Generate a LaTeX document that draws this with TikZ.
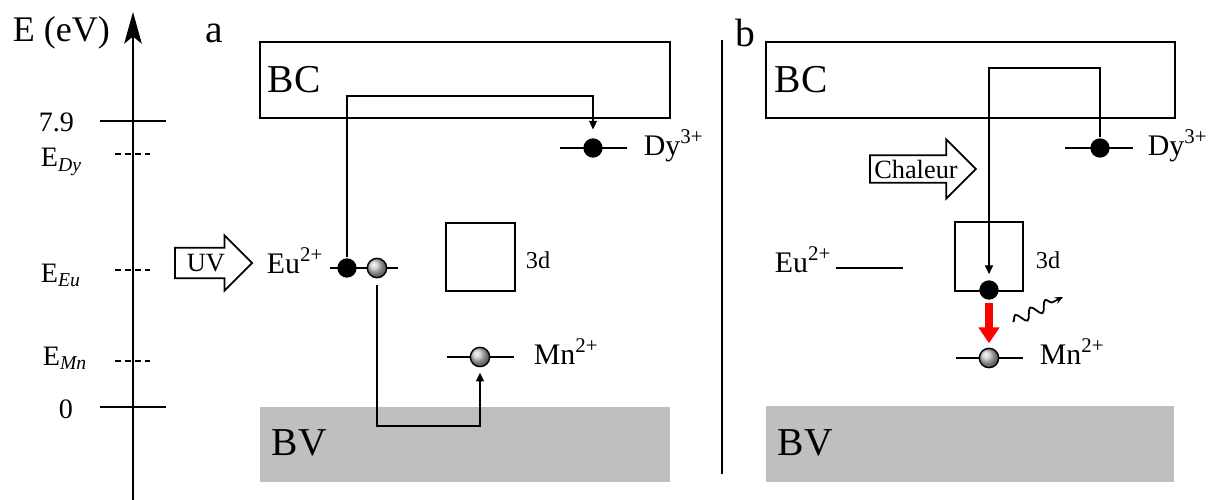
\documentclass[tikz,border=0pt]{standalone}
\usepackage{fontspec}
\setmainfont{Liberation Serif}
\usetikzlibrary{positioning, arrows.meta, shapes.arrows, decorations.pathmorphing}

\begin{document}
\begin{tikzpicture}[
  x=0.02cm, y=-0.02cm, line width=1pt,
  big/.style={font=\fontsize{22.5}{26}\selectfont, inner sep=0pt, anchor=base west},
  ion/.style={font=\fontsize{17}{20}\selectfont, inner sep=0pt, anchor=base west},
  lbl/.style={font=\fontsize{13.8}{16}\selectfont, inner sep=0pt, anchor=base west},
  axl/.style={font=\fontsize{16}{18}\selectfont, inner sep=0pt, anchor=base west},
  edot/.style={circle, fill=black, inner sep=0pt, minimum size=11pt},
  hole/.style={circle, draw, shade, ball color=gray!45, inner sep=0pt, minimum size=11pt, line width=0.8pt},
  excit/.style={single arrow, draw, fill=white, anchor=tail, font=\fontsize{15}{17}\selectfont, inner xsep=2pt},
  jump/.style={-{Triangle[length=5pt,width=4.5pt]}, line width=0.9pt},
  tick/.style={dash pattern=on 3.4pt off 2.2pt, line width=0.9pt},
]
\useasboundingbox (0,0) rectangle (1224,500);

% energy axis
\coordinate (axbot) at (133,500);
\coordinate (axtop) at (133,12);
\draw[-{Stealth[length=18pt,width=10pt,inset=4pt]}] (axbot) -- (axtop);
\node[big, font=\fontsize{20.5}{24}\selectfont] (eaxis) at (12,42) {E (eV)};
\draw (100,121) -- (166,121);
\draw (100,407) -- (166,407);
\draw[tick] (115,154) -- (152,154);
\draw[tick] (115,270) -- (152,270);
\draw[tick] (115,361) -- (152,361);
\node[axl] (t79) at (38,132) {7.9};
\node[axl] (tdy) at (40,167) {E\textsubscript{\textit{Dy}}};
\node[axl] (teu) at (40,282) {E\textsubscript{\textit{Eu}}};
\node[axl] (tmn) at (42,365) {E\textsubscript{\textit{Mn}}};
\node[axl] (t0) at (58,418) {0};

% panel a
\node[big] (lblA) at (205,43) {a};
\draw (260,42) rectangle (670,118);
\fill[black!25] (260,407) rectangle (670,482);
\node[big] (bcA) at (267,92) {BC};
\node[big] (bvA) at (271,455) {BV};
\draw (446,223) rectangle (515,291);
\node[lbl] (ddA) at (525,268) {3d};
\draw (560,148) -- (627,148);
\draw (330,268) -- (398,268);
\draw (447,357) -- (514,357);
\node[edot] (dyA) at (593,148) {};
\node[edot] (euA) at (347,268) {};
\node[hole] (hA) at (377,268) {};
\node[hole] (mnA) at (480,357) {};
\node[ion] (ldyA) at (643,155) {Dy\textsuperscript{3+}};
\node[ion] (leuA) at (266,273) {Eu\textsuperscript{2+}};
\node[ion] (lmnA) at (533,364) {Mn\textsuperscript{2+}};
\node[excit, inner ysep=3.2pt, minimum height=44pt, single arrow head extend=7pt] (uv) at (174,263) {UV};
\coordinate (kA) at (470,96);
\coordinate (kA2) at (430,426);
\draw[jump, shorten >=4.5pt] (euA.north) |- (kA) -| (dyA.north);
\draw[jump, shorten <=4pt, shorten >=3pt] (hA.south) |- (kA2) -| (mnA.south);

% separator
\draw (722,40) -- (722,474);

% panel b
\node[big] (lblB) at (735,47) {b};
\draw (766,42) rectangle (1175,118);
\fill[black!25] (766,406) rectangle (1174,482);
\node[big] (bcB) at (774,92) {BC};
\node[big] (bvB) at (777,455) {BV};
\draw (955,222) rectangle (1023,291);
\node[lbl] (ddB) at (1035,268) {3d};
\draw (1065,148) -- (1133,148);
\draw (836,268) -- (903,268);
\draw (956,358) -- (1023,358);
\node[edot] (dyB) at (1100,148) {};
\node[edot] (euB) at (989,290) {};
\node[hole] (mnB) at (989,358) {};
\node[ion] (ldyB) at (1147,155) {Dy\textsuperscript{3+}};
\node[ion] (leuB) at (774,272) {Eu\textsuperscript{2+}};
\node[ion] (lmnB) at (1039,364) {Mn\textsuperscript{2+}};
\node[excit, inner ysep=2pt, minimum height=58.5pt, single arrow head extend=9pt] (heat) at (869,169) {Chaleur};
\coordinate (kB) at (1040,68);
\draw[jump, shorten >=3pt] (dyB.north) |- (kB) -| (euB.north);
\draw[red, line width=4pt, -{Triangle[length=9pt,width=11.5pt]}, shorten <=1.5pt, shorten >=2.5pt] (euB.south) -- (mnB.north);
\coordinate (phA) at (1013,322);
\coordinate (phB) at (1063,297);
\draw[line width=1pt, -{Stealth[length=4.5pt,width=4pt]}, decorate,
  decoration={snake, amplitude=3pt, segment length=9.5pt, post length=3pt}] (phA) -- (phB);
\end{tikzpicture}
\end{document}
